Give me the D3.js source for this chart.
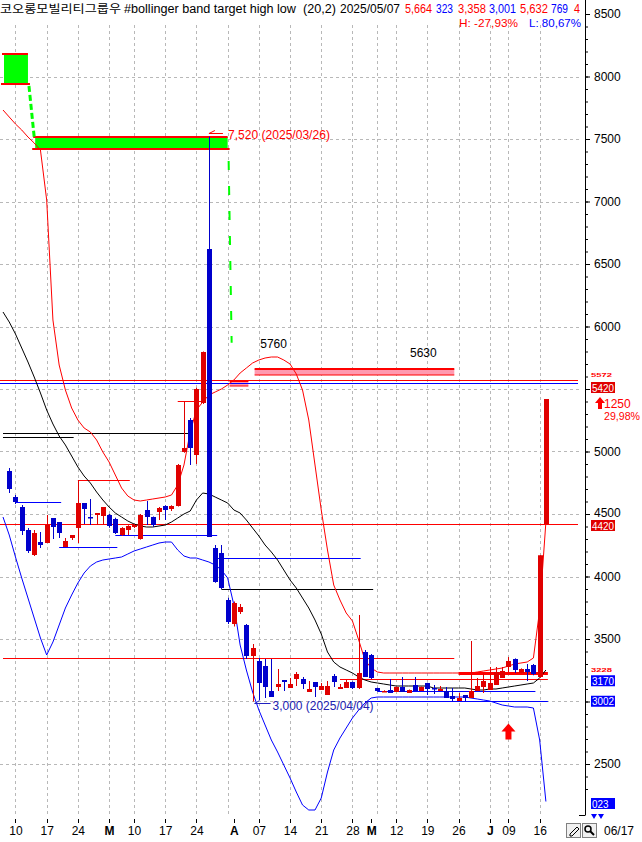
<!DOCTYPE html>
<html><head><meta charset="utf-8">
<script src="https://cdn.jsdelivr.net/npm/d3@7/dist/d3.min.js"></script>
<style>
html,body{margin:0;padding:0;background:#fff;}
svg{display:block;font-family:"Liberation Sans",Arial,sans-serif;}
</style></head><body>
<svg id="chart" width="642" height="842"></svg>
<script>
// ---------------- DATA ----------------
const dates = ["02/06","02/07","02/10","02/11","02/12","02/13","02/14","02/17","02/18","02/19","02/20","02/21","02/24","02/25","02/26","02/27","02/28",
"03/04","03/05","03/06","03/07","03/10","03/11","03/12","03/13","03/14","03/17","03/18","03/19","03/20","03/21","03/24","03/25","03/26","03/27","03/28","03/31",
"04/01","04/02","04/03","04/04","04/07","04/08","04/09","04/10","04/11","04/14","04/15","04/16","04/17","04/18","04/21","04/22","04/23","04/24","04/25","04/28","04/29","04/30",
"05/02","05/07","05/08","05/09","05/12","05/13","05/14","05/15","05/16","05/19","05/20","05/21","05/22","05/23","05/26","05/27","05/28","05/29","05/30",
"06/02","06/04","06/05","06/09","06/10","06/11","06/12","06/13","06/16","06/17"];

const openP = [null,4844,4636,4556,4372,4172,4276,4268,4468,4436,4236,4308,4388,4588,4476,4492,4484,
4492,4460,4332,4372,4396,4300,4532,4476,4516,4564,4540,4564,4996,5252,4972,5388,6620,4228,4188,3812,
3620,3716,3612,3364,3324,3284,3084,3116,3172,3108,3180,3180,3076,3156,3092,3052,3204,3100,3108,3156,3108,3396,
3372,3108,3076,3092,3076,3116,3068,3132,3084,3148,3108,3084,3084,3044,3004,3052,3028,3084,3116,
3092,3132,3188,3276,3340,3228,3260,3292,3196,4420];
const highP = [null,4868,4652,4572,4388,4372,4356,4492,4468,4436,4308,4332,4772,4588,4620,4508,4556,
4500,4470,4395,4410,4420,4500,4604,4480,4556,4570,4570,4900,5404,5268,5510,5800,7520,4252,4252,3830,
3800,3780,3620,3460,3348,3340,3340,3260,3172,3188,3236,3196,3164,3156,3148,3164,3220,3140,3172,3160,3692,3412,
3380,3110,3090,3180,3120,3196,3096,3196,3120,3150,3132,3124,3116,3108,3068,3052,3484,3188,3228,
3276,3276,3276,3356,3345,3265,3300,3300,4170,5420];
const lowP = [null,4668,4580,4332,4188,4164,4228,4268,4300,4308,4236,4292,4268,4420,4412,4412,4412,
4390,4340,4325,4332,4388,4295,4412,4396,4452,4452,4524,4560,4990,4892,4900,5380,4316,3950,3900,3620,
3600,3700,3340,3000,3012,3028,3036,3084,3084,3108,3124,3100,3076,3036,3092,3052,3116,3100,3108,3100,3100,3196,
3180,3080,3076,3068,3076,3076,3068,3084,3084,3052,3060,3084,3028,3000,3004,3000,3028,3084,3068,
3092,3132,3188,3236,3228,3225,3164,3210,3190,4420];
const closeP = [null,4700,4596,4364,4204,4348,4252,4412,4396,4348,4284,4332,4588,4540,4468,4508,4556,
4404,4348,4388,4404,4412,4492,4476,4412,4548,4532,4564,4892,5028,5028,5500,5796,4316,3956,3908,3636,
3788,3756,3364,3428,3148,3116,3036,3140,3156,3140,3220,3140,3100,3116,3124,3124,3156,3116,3156,3108,3228,3196,
3188,3084,3084,3068,3116,3076,3092,3084,3116,3100,3100,3100,3028,3020,3028,3028,3084,3124,3164,
3148,3236,3244,3324,3252,3260,3236,3220,4170,5420];

// Bollinger (20,2) lines
const upperBand = [7732,7676,7620,7572,7516,7468,7412,7012,6052,5692,5492,5348,5252,5188,5156,5092,4996,
4916,4812,4708,4644,4612,4604,4612,4620,4628,4636,4652,4732,4892,5156,5332,5396,5452,5476,5500,5532,
5572,5628,5668,5708,5732,5748,5756,5756,5732,5700,5620,5492,5252,4892,4532,4212,3932,3812,3708,3644,3492,3332,
3268,3236,3228,3228,3228,3228,3228,3228,3228,3228,3228,3228,3228,3228,3228,3228,3228,3236,3244,
3252,3260,3268,3284,3300,3308,3316,3348,3732,4436];
const midBand = [6116,6036,5940,5828,5716,5596,5468,5332,5220,5124,5052,4964,4876,4804,4748,4676,4612,
4556,4508,4476,4444,4420,4404,4396,4396,4404,4412,4436,4468,4500,4524,4612,4668,4660,4636,4612,4588,
4532,4508,4452,4388,4324,4252,4196,4132,4052,3972,3908,3828,3748,3652,3540,3396,3316,3276,3252,3228,3196,3172,
3156,3148,3140,3132,3124,3124,3124,3124,3124,3124,3108,3108,3108,3108,3108,3108,3100,3092,3092,
3100,3100,3108,3116,3124,3132,3140,3148,3188,3252];
const lowerBand = [4476,4332,4156,3988,3828,3668,3508,3372,3476,3612,3748,3852,3948,4028,4084,4116,4132,
4140,4148,4156,4180,4204,4220,4236,4252,4268,4276,4276,4212,4164,4148,4148,4132,4116,4092,4052,3988,
3772,3452,3252,3076,2932,2812,2692,2596,2492,2388,2276,2172,2132,2132,2228,2436,2612,2708,2788,2868,2932,2988,
3028,3036,3036,3036,3036,3036,3036,3036,3036,3036,3036,3036,3036,3036,3036,3036,3028,3020,3012,
3004,2988,2972,2964,2956,2956,2956,2948,2692,2200];

// target high / low level lines: [from, to, value]
const resistLines = [["02/24","03/07",4772],["03/19","03/25",5404],["02/06","05/23",3348],["04/24","06/17",3180]];
const resistThick = [["05/26","06/17",3228]];
const supportLines = [["02/10","02/19",4596],["02/19","03/05",4236],["03/05","03/27",4332],["03/27","04/29",4148],["05/07","06/13",3084],["04/30","06/17",3000]];
const pivotLines = [["02/06","03/21",5148],["02/06","02/21",5116],["03/28","05/02",3900]];
const fullRed = [4420,5572];
const fullBlue = [5548];
// target boxes: [from, to, top, bottom]
const highBoxes = [["03/31","04/03",5564,5524],["04/04","05/23",5660,5612]];
const greenBoxes = [["02/06","02/12",8180,7940],["02/13","03/31",7516,7420]];
const highMark = {date:"03/26", value:7520, text:"7,520 (2025/03/26)"};
const lowMark = {date:"04/04", value:3000, text:"3,000 (2025/04/04)"};
const peakLabels = [{date:"04/10", value:5760, text:"5760"},{date:"05/19", value:5630, text:"5630"}];

const yTicks = [2500,3000,3500,4000,4500,5000,5500,6000,6500,7000,7500,8000,8500];
const xLabels = [["02/10","10",0],["02/17","17",0],["02/24","24",0],["03/04","M",1],["03/10","10",0],["03/17","17",0],["03/24","24",0],
["04/01","A",1],["04/07","07",0],["04/14","14",0],["04/21","21",0],["04/28","28",0],["05/02","M",1],["05/12","12",0],["05/19","19",0],
["05/26","26",0],["06/02","J",1],["06/09","09",0],["06/16","16",0]];
const weekStarts = ["02/10","02/17","02/24","03/04","03/10","03/17","03/24","03/31","04/07","04/14","04/21","04/28","05/07","05/12","05/19","05/26","06/02","06/09","06/16"];

// ---------------- DRAW ----------------
const svg = d3.select("#chart");
const plotRight = 580, axisX = 585, plotTop = 25, plotBottom = 816;
const RED = "#ff0000", CRED = "#e00000", BLUE = "#0000ff", CBLUE = "#0000cc";
const x = d3.scaleLinear().domain([0, dates.length - 1]).range([3, 545.9]);
const y = d3.scaleLinear().domain([2500, 8500]).range([764, 14]);
const xd = d => x(dates.indexOf(d));
const px = v => Math.round(v) + 0.5;

// grid
const grid = svg.append("g").attr("stroke", "#b8b8b8").attr("stroke-dasharray", "3,3");
grid.selectAll("line.h").data(yTicks.filter(v => v < 8500)).join("line")
  .attr("x1", 0).attr("x2", plotRight).attr("y1", d => px(y(d))).attr("y2", d => px(y(d)));
grid.selectAll("line.v").data(weekStarts).join("line")
  .attr("x1", d => px(xd(d))).attr("x2", d => px(xd(d))).attr("y1", plotTop).attr("y2", plotBottom);

// green target boxes
const gb = svg.append("g");
greenBoxes.forEach(b => {
  const x1 = xd(b[0]) + 1, x2 = xd(b[1]);
  gb.append("rect").attr("x", x1).attr("y", y(b[2])).attr("width", x2 - x1).attr("height", y(b[3]) - y(b[2])).attr("fill", "#00ff00");
  gb.append("line").attr("x1", x1 - 2).attr("x2", x2).attr("y1", y(b[2])).attr("y2", y(b[2])).attr("stroke", RED).attr("stroke-width", 2);
  gb.append("line").attr("x1", x1 - 3).attr("x2", x2 + 2).attr("y1", y(b[3])).attr("y2", y(b[3])).attr("stroke", RED).attr("stroke-width", 2);
});
// green dashed connectors
gb.append("line").attr("x1", xd(greenBoxes[0][1]) + 1).attr("y1", y(greenBoxes[0][3]) + 2)
  .attr("x2", xd(greenBoxes[1][0]) + 0).attr("y2", y(greenBoxes[1][2]))
  .attr("stroke", "#00ff00").attr("stroke-width", 3).attr("stroke-dasharray", "6,3");
gb.append("line").attr("x1", xd(greenBoxes[1][1]) + 1).attr("y1", y(greenBoxes[1][3]) + 12)
  .attr("x2", xd(greenBoxes[1][1]) + 4).attr("y2", y(5870))
  .attr("stroke", "#00ff00").attr("stroke-width", 2).attr("stroke-dasharray", "9,16");

// pink target-high boxes
const hb = svg.append("g");
highBoxes.forEach(b => {
  const x1 = xd(b[0]) + 2, x2 = xd(b[1]) + 2;
  hb.append("rect").attr("x", x1).attr("y", y(b[2])).attr("width", x2 - x1).attr("height", y(b[3]) - y(b[2])).attr("fill", "#ff9ab0");
  hb.append("line").attr("x1", x1).attr("x2", x2).attr("y1", y(b[2])).attr("y2", y(b[2])).attr("stroke", RED).attr("stroke-width", 2);
  hb.append("line").attr("x1", x1).attr("x2", x2).attr("y1", y(b[3])).attr("y2", y(b[3])).attr("stroke", RED).attr("stroke-width", 1);
});

// full-width level lines
const lv = svg.append("g");
lv.selectAll("line.fr").data(fullRed).join("line").attr("x1", 0).attr("x2", plotRight - 2)
  .attr("y1", d => px(y(d))).attr("y2", d => px(y(d))).attr("stroke", RED);
lv.selectAll("line.fb").data(fullBlue).join("line").attr("x1", 0).attr("x2", plotRight - 2)
  .attr("y1", d => px(y(d))).attr("y2", d => px(y(d))).attr("stroke", BLUE);
function segs(data, color, w) {
  lv.selectAll(null).data(data).join("line")
    .attr("x1", d => xd(d[0])).attr("x2", d => xd(d[1]) + 2)
    .attr("y1", d => px(y(d[2]))).attr("y2", d => px(y(d[2])))
    .attr("stroke", color).attr("stroke-width", w);
}
segs(resistLines, RED, 1);
segs(resistThick, RED, 3);
segs(supportLines, BLUE, 1);
segs(pivotLines, "#000", 1);

// bands
const line = d3.line().x((d, i) => x(i)).y(d => y(d));
svg.append("path").attr("d", line(upperBand)).attr("fill", "none").attr("stroke", RED).attr("stroke-width", 1);
svg.append("path").attr("d", line(midBand)).attr("fill", "none").attr("stroke", "#000").attr("stroke-width", 1);
svg.append("path").attr("d", line(lowerBand)).attr("fill", "none").attr("stroke", BLUE).attr("stroke-width", 1);

// candles
const idx = d3.range(dates.length).filter(i => openP[i] != null);
const cg = svg.append("g");
cg.selectAll("line").data(idx).join("line")
  .attr("x1", i => px(x(i))).attr("x2", i => px(x(i)))
  .attr("y1", i => y(highP[i])).attr("y2", i => y(lowP[i]))
  .attr("stroke", i => closeP[i] >= openP[i] ? CRED : CBLUE);
cg.selectAll("rect").data(idx).join("rect")
  .attr("x", i => Math.round(x(i)) - 2).attr("width", 5)
  .attr("y", i => y(Math.max(openP[i], closeP[i])))
  .attr("height", i => Math.max(1.5, Math.abs(y(openP[i]) - y(closeP[i]))))
  .attr("fill", i => closeP[i] >= openP[i] ? CRED : CBLUE);

// high / low annotations
const hx = xd(highMark.date), hy = y(highMark.value);
svg.append("path").attr("d", `M${hx + 14},${hy - 3}H${hx}l6,-3`).attr("fill", "none").attr("stroke", RED);
svg.append("text").attr("x", hx + 19).attr("y", hy + 2).attr("fill", RED).attr("font-size", 12)
  .attr("textLength", 102).attr("lengthAdjust", "spacingAndGlyphs").text(highMark.text);
const lx = xd(lowMark.date), ly = y(lowMark.value);
svg.append("path").attr("d", `M${lx + 18},${ly + 2}H${lx + 2}l5,-3`).attr("fill", "none").attr("stroke", "#2020c0");
svg.append("text").attr("x", lx + 20).attr("y", ly + 8).attr("fill", "#2020b0").attr("font-size", 12)
  .attr("textLength", 101).attr("lengthAdjust", "spacingAndGlyphs").text(lowMark.text);
svg.selectAll("text.pk").data(peakLabels).join("text")
  .attr("x", d => xd(d.date) - 4).attr("y", d => y(d.value) - (d.value > 5700 ? 9 : 16))
  .attr("text-anchor", "middle").attr("font-size", 12).attr("fill", "#000").text(d => d.text);

// red up arrow marker
const ax = xd("06/09"), ay = y(2760);
svg.append("path").attr("d", `M${ax},${ay - 8}l7,8h-4v8h-6v-8h-4z`).attr("fill", RED);

// right-side value tags (values drawn on the axis)
const lastClose = closeP[closeP.length - 1], prevClose = closeP[closeP.length - 2];
const tags = [
  {v: lastClose, txt: String(lastClose), fill: "#e00000", dy: -11.5},
  {v: fullRed[0], txt: String(fullRed[0]), fill: "#e00000", dy: 1.5},
  {v: 3170, txt: "3170", fill: "#0000ff", dy: 0.5},
  {v: 3002, txt: "3002", fill: "#0000ff", dy: 0},
  {v: lowerBand[lowerBand.length - 1], txt: "023", fill: "#0000ff", dy: 2}
];
// axis labels hidden by the tags
const coveredTicks = yTicks.filter(t => tags.some(g => Math.abs(y(g.v) + g.dy - y(t)) < 11 && t !== 4500));

// right axis
const minor = d3.range(2300, 8600, 100);
const axMinor = d3.axisRight(y).tickValues(minor).tickSize(3).tickFormat("");
const axMajor = d3.axisRight(y).tickValues(yTicks).tickSize(5).tickPadding(4)
  .tickFormat(d => coveredTicks.includes(d) ? "" : d3.format("d")(d));
svg.append("g").attr("transform", `translate(${axisX},0)`).call(axMinor).call(g => g.select(".domain").remove());
const gA = svg.append("g").attr("transform", `translate(${axisX},0)`).call(axMajor);
gA.select(".domain").remove();
gA.selectAll("text").attr("font-size", 12).attr("font-family", "Liberation Sans, Arial, sans-serif").attr("fill", "#000")
  .attr("dy", d => d === 4500 ? "0.2em" : "0.32em");
svg.append("line").attr("x1", axisX + 0.5).attr("x2", axisX + 0.5).attr("y1", 0).attr("y2", 815).attr("stroke", "#000");
svg.append("line").attr("x1", axisX - 6).attr("x2", axisX + 0.5).attr("y1", 815.5).attr("y2", 815.5).attr("stroke", "#000");

tags.forEach(g => {
  const cy = y(g.v) + g.dy;
  svg.append("rect").attr("x", 591).attr("y", cy - 5.5).attr("width", 24).attr("height", 11).attr("fill", g.fill);
  svg.append("text").attr("x", 592).attr("y", cy + 4).attr("fill", "#fff").attr("font-size", 10.5)
    .attr("textLength", g.txt.length * 5.5).attr("lengthAdjust", "spacingAndGlyphs").text(g.txt);
});
function tiny(v, txt, dy) {
  svg.append("text").attr("x", 591).attr("y", y(v) + dy).attr("fill", RED).attr("font-size", 6)
    .attr("font-weight", "bold").attr("textLength", 21).attr("lengthAdjust", "spacingAndGlyphs").text(txt);
}
tiny(fullRed[1], "5572", -3);
tiny(resistThick[0][2], "3228", -1);
svg.append("path").attr("d", "M591,814h6l-3,5zM598,814h6l-3,5z").attr("fill", "#0000ff");
// change tag
svg.append("path").attr("d", `M${600},${y(lastClose) - 2}l-5,6h3v6h4v-6h3z`).attr("fill", RED);
svg.append("text").attr("x", 604).attr("y", y(lastClose) + 9).attr("fill", RED).attr("font-size", 12).text(lastClose - prevClose);
svg.append("text").attr("x", 604).attr("y", y(lastClose) + 21).attr("fill", RED).attr("font-size", 11)
  .attr("textLength", 36).attr("lengthAdjust", "spacingAndGlyphs")
  .text(d3.format(".2f")((lastClose - prevClose) / prevClose * 100).replace(".", ",") + "%");

// x axis labels
const xa = svg.append("g");
xa.selectAll("line").data(xLabels).join("line").attr("x1", d => px(xd(d[0]))).attr("x2", d => px(xd(d[0])))
  .attr("y1", 819).attr("y2", 823).attr("stroke", "#000");
xa.selectAll("text").data(xLabels).join("text").attr("x", d => xd(d[0]) + 0.5).attr("y", 835)
  .attr("text-anchor", "middle").attr("font-size", 12).attr("font-weight", d => d[2] ? "bold" : "normal")
  .attr("fill", "#000").text(d => d[1]);

// bottom-right controls
[566, 582].forEach(bx => {
  svg.append("rect").attr("x", bx + 0.5).attr("y", 823.5).attr("width", 14).attr("height", 14)
    .attr("fill", "#f0f0f0").attr("stroke", "#808080");
});
svg.append("path").attr("d", "M570,834l7,-7l2,2l-7,7h-2z").attr("fill", "none").attr("stroke", "#000");
svg.append("circle").attr("cx", 588).attr("cy", 829).attr("r", 3).attr("fill", "none").attr("stroke", "#000").attr("stroke-width", 1.5);
svg.append("line").attr("x1", 590).attr("y1", 831).attr("x2", 594).attr("y2", 835).attr("stroke", "#000").attr("stroke-width", 2);
svg.append("text").attr("x", 604).attr("y", 835).attr("font-size", 12).attr("fill", "#000").text(dates[dates.length - 1]);

// header
const hdr = svg.append("g").attr("font-size", 12);
const parts = [
  ["코오롱모빌리티그룹우", "#000", 0, 121, "Noto Sans CJK KR"],
  ["#bollinger band target high low", "#000", 124, 172],
  ["(20,2)", "#000", 303, 33], ["2025/05/07", "#000", 340, 60],
  ["5,664", RED, 405, 27], ["323", BLUE, 436, 17], ["3,358", RED, 458, 28], ["3,001", BLUE, 489, 27],
  ["5,632", RED, 520, 28], ["769", BLUE, 551, 17], ["4", RED, 574, 6]
];
parts.forEach(p => {
  const t = hdr.append("text").attr("x", p[2]).attr("y", 13).attr("fill", p[1])
    .attr("textLength", p[3]).attr("lengthAdjust", "spacingAndGlyphs").text(p[0]);
  if (p[4]) t.attr("font-family", p[4]).attr("font-size", 11.5);
});
hdr.append("text").attr("x", 459).attr("y", 27).attr("fill", RED).attr("font-size", 11.5).attr("textLength", 59).attr("lengthAdjust", "spacingAndGlyphs").text("H: -27,93%");
hdr.append("text").attr("x", 529).attr("y", 27).attr("fill", BLUE).attr("font-size", 11.5).attr("textLength", 52).attr("lengthAdjust", "spacingAndGlyphs").text("L: 80,67%");
</script>
</body></html>
